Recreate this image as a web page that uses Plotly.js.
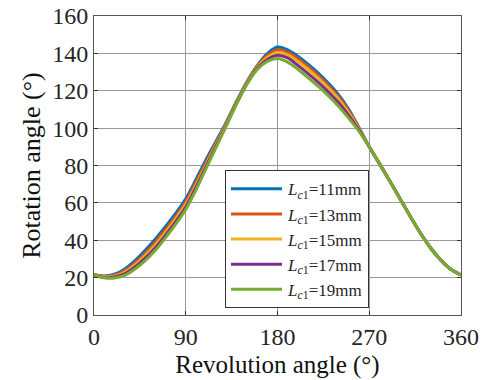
<!DOCTYPE html>
<html>
<head>
<meta charset="utf-8">
<script src="https://cdn.plot.ly/plotly-3.0.1.min.js"></script>
<style>
  html, body { margin: 0; padding: 0; background: #fff; }
  #chart { width: 491px; height: 380px; }
</style>
</head>
<body>
<div id="chart"></div>
<script>
// Revolution angle samples (degrees)
const revolution = [0, 10, 20, 30, 40, 50, 60, 70, 80, 90, 100, 110, 120, 130, 140, 150, 160, 170, 180,
  190, 200, 210, 220, 230, 240, 250, 260, 270, 280, 290, 300, 310, 320, 330, 340, 350, 360];

// Rotation angle (degrees) for each crank length L_c1
const rot11 = [21.5, 20.9, 21.8, 24.5, 29, 34.5, 40.5, 47.2, 54.4, 62.2, 72.5, 83.3, 93.3, 103.5, 114.5, 124.8, 133.4, 139.9, 143.4,
  141.9, 138.5, 134.2, 129.4, 124, 117.8, 110, 100.2, 90, 81, 71.8, 62.4, 53, 44, 36, 29.5, 24.5, 21.5];
const rot13 = [21.5, 20.6, 21.3, 23.7, 27.8, 33, 38.8, 45.6, 52.8, 60.6, 70.9, 81.8, 92.3, 102.9, 114.1, 124.5, 133, 138.9, 142,
  140.6, 137.2, 132.9, 128.1, 122.7, 116.7, 109.1, 99.8, 90, 81, 71.8, 62.4, 53, 44, 36, 29.5, 24.5, 21.5];
const rot15 = [21.5, 20.4, 20.8, 22.9, 26.7, 31.7, 37.3, 44, 51.3, 59.2, 69.5, 80.5, 91.5, 102.4, 113.8, 124.2, 132.5, 137.8, 140.5,
  139.2, 135.7, 131.4, 126.6, 121.3, 115.4, 108, 99.3, 90, 81, 71.8, 62.4, 53, 44, 36, 29.5, 24.5, 21.5];
const rot17 = [21.5, 20.1, 20.3, 22, 25.6, 30.3, 35.9, 42.6, 49.8, 57.8, 68.2, 79.5, 90.7, 101.9, 113.4, 123.8, 131.9, 136.7, 139,
  137.6, 133.6, 129.2, 124.5, 119.3, 113.6, 106.7, 98.8, 90, 81, 71.8, 62.4, 53, 44, 36, 29.5, 24.5, 21.5];
const rot19 = [21.5, 19.9, 19.8, 21.2, 24.5, 29, 34.5, 41.3, 48.5, 56.5, 66.8, 78.5, 90, 101.5, 113, 123.5, 131.3, 135.7, 137.2,
  135.3, 131.5, 127, 122.3, 117.2, 111.6, 105.2, 98.2, 90, 81, 71.8, 62.4, 53, 44, 36, 29.5, 24.5, 21.5];

const lengths = ['11', '13', '15', '17', '19'];
const series = [rot11, rot13, rot15, rot17, rot19];
const colors = ['#0072BD', '#D95319', '#EDB120', '#7E2F8E', '#77AC30'];

const xTicks = [0, 90, 180, 270, 360];

const serif = 'Liberation Serif';

const traces = series.map((ys, i) => ({
  x: revolution,
  y: ys,
  type: 'scatter',
  mode: 'lines',
  name: '<i>L</i><sub><i>c</i>1</sub>=' + lengths[i] + 'mm',
  legendgroup: 'g' + i,
  line: { color: colors[i], width: 3, shape: 'spline', smoothing: 1 }
}));

const layout = {
  width: 491,
  height: 380,
  margin: { l: 94, r: 30, t: 16, b: 65 },
  paper_bgcolor: '#ffffff',
  plot_bgcolor: '#ffffff',
  font: { family: serif, color: '#262626' },
  showlegend: true,
  legend: {
    x: 0.357, y: 0.484, xanchor: 'left', yanchor: 'top',
    bgcolor: '#ffffff', bordercolor: '#333333', borderwidth: 1,
    font: { family: serif, size: 17, color: '#262626' },
    itemwidth: 52,
    tracegroupgap: 0
  },
  xaxis: {
    range: [0, 360],
    tickvals: xTicks,
    ticktext: xTicks.map(String),
    ticks: 'inside', ticklen: 4, tickcolor: '#333',
    showline: true, linecolor: '#555', linewidth: 1, mirror: 'ticks',
    showgrid: true, gridcolor: '#9a9a9a', gridwidth: 1,
    zeroline: false,
    tickfont: { family: serif, size: 24, color: '#262626' },
    title: { text: 'Revolution angle (°)', font: { family: serif, size: 25, color: '#111' }, standoff: 6 }
  },
  yaxis: {
    range: [0, 160],
    dtick: 20,
    ticks: 'inside', ticklen: 4, tickcolor: '#333',
    showline: true, linecolor: '#555', linewidth: 1, mirror: 'ticks',
    showgrid: true, gridcolor: '#9a9a9a', gridwidth: 1,
    zeroline: false,
    tickfont: { family: serif, size: 24, color: '#262626' },
    title: { text: 'Rotation angle (°)', font: { family: serif, size: 26, color: '#111' }, standoff: 4 }
  }
};

Plotly.newPlot('chart', traces, layout, { displayModeBar: false, staticPlot: true }).then(gd => {
  // lengthen the legend line samples to fill the wider symbol column
  gd.querySelectorAll('.legend .js-line').forEach(p => p.setAttribute('d', 'M5,0h51'));
});
</script>
</body>
</html>
